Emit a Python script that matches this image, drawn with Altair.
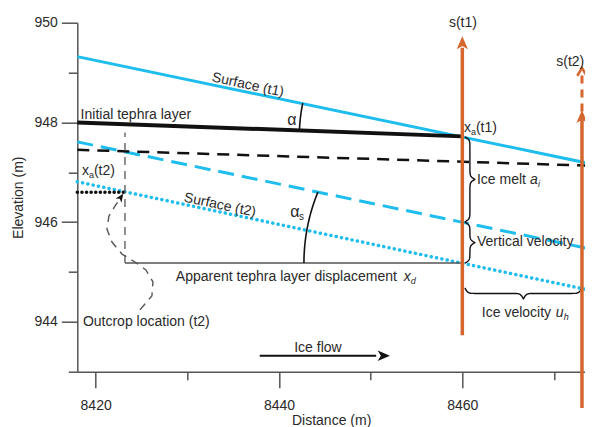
import altair as alt
import numpy as np
import pandas as pd

# ---------------- values ----------------
x_domain = [8418.0, 8473.38]
y_domain = [943.0, 950.0]
x_major = [8420, 8440, 8460]
x_minor = [8430, 8450, 8470]
y_major = [944, 946, 948, 950]
y_minor = [943, 945, 947, 949]

surface_t1_x = [8418.0, 8474.25]
surface_t1_y = [949.32, 947.16]
tephra_x = [8418.0, 8460.0]
tephra_y = [948.0, 947.72]
melt_x = [8418.0, 8474.25]
melt_y = [947.45, 947.13]
shifted_x = [8418.0, 8474.25]
shifted_y = [947.61, 945.45]
surface_t2_x = [8418.0, 8474.25]
surface_t2_y = [946.81, 944.62]
tephra_t2_x = [8418.0, 8423.2]
tephra_t2_y = [946.6, 946.6]
displacement_x = [8423.2, 8460.0]
displacement_y = [945.18, 945.18]
outcrop_v_x = [8423.2, 8423.2]
outcrop_v_y = [945.18, 947.8]
outcrop_path_x = [8424.83, 8426.14, 8426.25, 8425.49, 8424.29, 8422.87,
                  8421.78, 8421.23, 8421.45, 8422.10, 8422.55]
outcrop_path_y = [944.24, 944.52, 944.80, 945.04, 945.20, 945.36,
                  945.60, 945.86, 946.12, 946.32, 946.44]
s1_x = [8460.0, 8460.0]
s1_y = [943.73, 949.5]
s2_x = [8473.05, 8473.05]
s2_y = [942.27, 948.05]
s2_dash_y = [948.22, 948.98]
flow_x = [8437.9, 8450.6]
flow_y = [943.32, 943.32]

# ---------------- layout / styles ----------------
W, H = 507.7, 349.0
PX_X = W / (x_domain[1] - x_domain[0])
PX_Y = H / (y_domain[1] - y_domain[0])
CYAN = "#1DBDEE"
ORANGE = "#D4662E"
BLACK = "#111111"
GREY = "#555555"
TXT = "#2a2a2a"
FONT = "Liberation Sans"
ARROW = "M0,-1L0.75,0.75L0,0.3L-0.75,0.75Z"
CHEVRON = "M-0.8,0.75L0,-0.6L0.8,0.75"

XSC = alt.Scale(domain=x_domain, nice=False, zero=False)
YSC = alt.Scale(domain=y_domain, nice=False, zero=False)


def enc(chart, **extra):
    return chart.encode(
        x=alt.X("x:Q", scale=XSC, axis=None),
        y=alt.Y("y:Q", scale=YSC, axis=None),
        **extra,
    )


def line(xs, ys, color, width, dash=None, cap="butt", join="miter"):
    df = pd.DataFrame({"x": list(xs), "y": list(ys), "o": range(len(xs))})
    kw = dict(color=color, strokeWidth=width, strokeCap=cap, strokeJoin=join, clip=False)
    if dash:
        kw["strokeDash"] = dash
    return enc(alt.Chart(df).mark_line(**kw), order="o:Q")


def text(x, y, s, size=14, align="left", angle=0, dx=0, dy=0, style="normal", color=TXT):
    df = pd.DataFrame({"x": [x], "y": [y], "t": [s]})
    return enc(
        alt.Chart(df).mark_text(
            font=FONT, fontSize=size, align=align, baseline="middle", angle=angle,
            dx=dx, dy=dy, fontStyle=style, color=color, clip=False,
        ),
        text="t:N",
    )


def head(x, y, shape, size, color, angle=0, filled=True, width=1.5):
    df = pd.DataFrame({"x": [x], "y": [y]})
    kw = dict(shape=shape, size=size, angle=angle, filled=filled, opacity=1, clip=False)
    if filled:
        kw.update(fill=color, strokeWidth=0)
    else:
        kw.update(stroke=color, strokeWidth=width, fill=None, strokeCap="round")
    return enc(alt.Chart(df).mark_point(**kw))


def arc(cx, cy, r, a0, a1, n=30):
    t = np.radians(np.linspace(a0, a1, n))
    return cx - r * np.cos(t) / PX_X, cy + r * np.sin(t) / PX_Y


def brace_profile(L, w, n=120, beta=0.7):
    t = np.linspace(0, L / 2, n // 2 + 1)
    h = 1 / (1 + np.exp(-beta * (t - t[0]))) + 1 / (1 + np.exp(-beta * (t - t[-1])))
    h = np.concatenate([h, h[-2::-1]])
    s = np.linspace(0, L, len(h))
    return s, w * (h - 0.5)


def vbrace(x0, ytop, L, w):
    s, off = brace_profile(L, w)
    return x0 + off / PX_X, ytop - s / PX_Y


def hbrace(x0, y0, L, w):
    s, off = brace_profile(L, w)
    return x0 + s / PX_X, y0 - off / PX_Y


# ---------------- axes (major + minor ticks) ----------------
axis_style = dict(
    domainColor=GREY, domainWidth=1.5, tickColor=GREY, tickWidth=1.5, grid=False,
    labelFont=FONT, labelFontSize=14, labelColor=TXT,
)
title_style = dict(titleFont=FONT, titleFontSize=14, titleFontWeight="normal", titleColor=TXT)
dummy = pd.DataFrame({"x": [x_domain[0]], "y": [y_domain[0]]})
base = alt.Chart(dummy).mark_point(opacity=0).encode(
    x=alt.X("x:Q", scale=XSC, axis=alt.Axis(values=x_major, tickSize=16, labelPadding=11,
                                            title="Distance (m)", titlePadding=1, format="d",
                                            orient="bottom", **axis_style, **title_style)),
    y=alt.Y("y:Q", scale=YSC, axis=alt.Axis(values=y_major, tickSize=16, labelPadding=4,
                                            title="Elevation (m)", titlePadding=8,
                                            orient="left", format="d", **axis_style, **title_style)),
)
minor = alt.Chart(dummy).mark_point(opacity=0).encode(
    x=alt.X("x:Q", scale=XSC, axis=alt.Axis(values=x_minor, tickSize=8, labels=False,
                                            title=None, orient="bottom", domain=False,
                                            **axis_style)),
    y=alt.Y("y:Q", scale=YSC, axis=alt.Axis(values=y_minor, tickSize=9, labels=False,
                                            title=None, orient="left", domain=False,
                                            **axis_style)),
)

# ---------------- geometry ----------------
alpha_x, alpha_y = arc(8460.0, 947.72, 163, 2.0, 11.8)
alphas_x, alphas_y = arc(8463.12, 945.18, 187, 0.0, 22.3)
melt_bx, melt_by = vbrace(8460.28, 947.71, 85, 10)
vv_bx, vv_by = vbrace(8460.28, 946.0, 41, 10)
iv_bx, iv_by = hbrace(8460.28, 944.68, 117, 11)

layers = [
    base, minor,
    line(surface_t1_x, surface_t1_y, CYAN, 3),
    line(shifted_x, shifted_y, CYAN, 3, dash=[16, 8]),
    line(surface_t2_x, surface_t2_y, CYAN, 3.5, dash=[0.1, 5.3], cap="round"),
    line(tephra_x, tephra_y, BLACK, 4),
    line(melt_x, melt_y, BLACK, 2.5, dash=[12, 8]),
    line(tephra_t2_x, tephra_t2_y, BLACK, 3.5, dash=[0.1, 4.5], cap="round"),
    line(displacement_x, displacement_y, GREY, 1.6),
    line(outcrop_v_x, outcrop_v_y, GREY, 1.3, dash=[8, 6]),
    line(outcrop_path_x, outcrop_path_y, GREY, 1.4, dash=[8, 6], join="round"),
    head(8422.72, 946.49, ARROW, 90, BLACK, angle=35),
    line(alpha_x, alpha_y, BLACK, 1.6, join="round"),
    line(alphas_x, alphas_y, BLACK, 1.6, join="round"),
    line(melt_bx, melt_by, BLACK, 1.4, join="round"),
    line(vv_bx, vv_by, BLACK, 1.4, join="round"),
    line(iv_bx, iv_by, BLACK, 1.4, join="round"),
    line(s1_x, s1_y, ORANGE, 3.5),
    line(s2_x, s2_y, ORANGE, 3.5),
    line(s2_x, s2_dash_y, ORANGE, 3, dash=[8, 6]),
    head(8460.0, 949.58, ARROW, 225, ORANGE),
    head(8473.05, 948.10, ARROW, 225, ORANGE),
    head(8473.05, 949.03, CHEVRON, 110, ORANGE, filled=False, width=2.5),
    line(flow_x, flow_y, BLACK, 2.2),
    head(8451.34, 943.32, ARROW, 196, BLACK, angle=90),
    # texts
    text(8436.61, 948.75, "Surface (t1)", angle=12, align="center"),
    text(8418.36, 948.15, "Initial tephra layer"),
    text(8441.41, 948.05, "α", size=16, align="center"),
    text(8433.56, 946.34, "Surface (t2)", angle=12, align="center"),
    text(8441.74, 946.20, "α", size=16, align="center"),
    text(8441.74, 946.20, "s", size=10, dx=4, dy=5),
    text(8418.5, 947.03, "x"),
    text(8418.5, 947.03, "a", size=9, dx=7, dy=4),
    text(8418.5, 947.03, "(t2)", dx=12),
    text(8460.17, 947.89, "x"),
    text(8460.17, 947.89, "a", size=9, dx=7, dy=4),
    text(8460.17, 947.89, "(t1)", dx=12),
    text(8461.59, 946.85, "Ice melt "),
    text(8461.59, 946.85, "a", style="italic", dx=53),
    text(8461.59, 946.85, "i", size=9, style="italic", dx=61, dy=4),
    text(8461.59, 945.60, "Vertical velocity"),
    text(8462.13, 944.18, "Ice velocity "),
    text(8462.13, 944.18, "u", style="italic", dx=74),
    text(8462.13, 944.18, "h", size=9, style="italic", dx=82, dy=4),
    text(8428.75, 944.90, "Apparent tephra layer displacement "),
    text(8428.75, 944.90, "x", style="italic", dx=228),
    text(8428.75, 944.90, "d", size=9, style="italic", dx=235, dy=4),
    text(8418.61, 943.99, "Outcrop location (t2)"),
    text(8444.25, 943.48, "Ice flow", align="center"),
    text(8460.06, 949.99, "s(t1)", align="center"),
    text(8473.3, 949.21, "s(t2)", align="right"),
]

chart = (
    alt.layer(*layers)
    .resolve_axis(x="independent", y="independent")
    .properties(
        width=W, height=H,
        autosize=alt.AutoSizeParams(type="none"),
        padding={"left": 69.3, "top": 14.7, "right": 0, "bottom": 55.3},
        background="white",
    )
    .configure_view(stroke=None)
)

chart.save("out.html", embed_options={"renderer": "svg", "actions": False})
